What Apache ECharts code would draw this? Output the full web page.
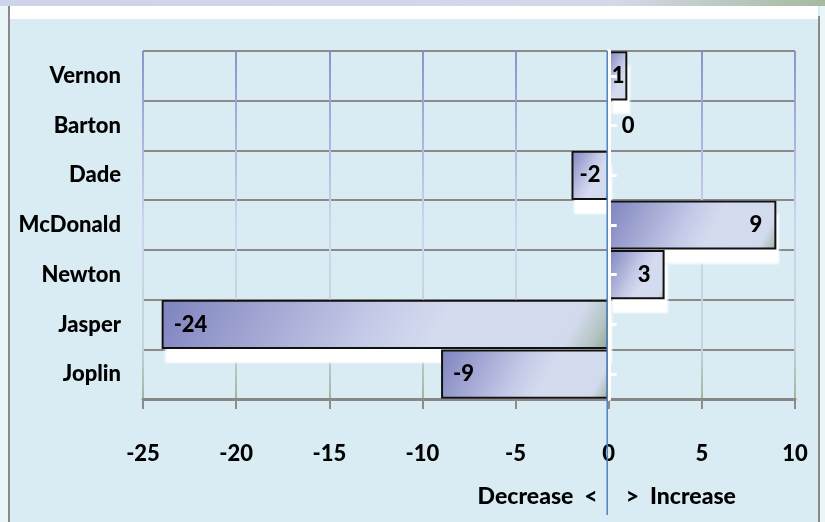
<!DOCTYPE html>
<html>
<head>
<meta charset="utf-8">
<script src="https://cdn.jsdelivr.net/npm/echarts@6/dist/echarts.min.js"></script>
<style>
  html, body { margin: 0; padding: 0; background: #d9ecf3; }
  #chart { width: 825px; height: 522px; }
</style>
</head>
<body>
<div id="chart"></div>
<script>
// County population change, top to bottom
const categories = ['Vernon', 'Barton', 'Dade', 'McDonald', 'Newton', 'Jasper', 'Joplin'];
const changes = [1, 0, -2, 9, 3, -24, -9];
// Value axis range and tick step
const xMin = -25;
const xMax = 10;
const xStep = 5;
const footLeft = 'Decrease  <';
const footRight = '>  Increase';

const FONT = "Lato, Roboto, 'Liberation Sans', sans-serif";
const WEIGHT = 900;
const GRID = { left: 143, right: 30, top: 51, bottom: 123 };
const H = 522, W = 825;
const BAR_GAP = 0.01;

// Label placement depends on the bar length
function labelFor(v) {
  if (v === 0) return { position: 'right', distance: 12 };
  if (Math.abs(v) <= 2) return { position: 'inside' };
  return v > 0 ? { position: 'insideRight', distance: 14 } : { position: 'insideLeft', distance: 12 };
}

const barStops = [
  { offset: 0, color: '#7f83bf' },
  { offset: 0.48, color: '#c6cce8' },
  { offset: 0.62, color: '#d4dbef' },
  { offset: 0.9, color: '#d2dbee' },
  { offset: 0.96, color: '#b3c2c0' },
  { offset: 1, color: '#92a592' }
];

// Slanted sheen: gradient runs at a fixed screen angle across each bar
function barFill(wPx, hPx) {
  const ang = 28 * Math.PI / 180;
  const c = Math.cos(ang), s = Math.sin(ang);
  const w = Math.max(wPx, 1), h = Math.max(hPx, 1);
  const L = w * c + h * s;
  return { type: 'linear', x: 0, y: 0, x2: L * c / w, y2: L * s / h, colorStops: barStops };
}

const gridTop = GRID.top, gridBottom = H - GRID.bottom;
const vGridColor = {
  type: 'linear', x: 0, y: gridTop, x2: 0, y2: gridBottom, global: true,
  colorStops: [
    { offset: 0, color: '#8d91cb' },
    { offset: 0.5, color: '#cfd4ee' },
    { offset: 0.85, color: '#c6d2dc' },
    { offset: 1, color: '#a2b49f' }
  ]
};

const textStyle = { color: '#000', fontFamily: FONT, fontWeight: WEIGHT, fontSize: 22 };
const lastIndex = changes.length - 1;

const chart = echarts.init(document.getElementById('chart'), null, { renderer: 'canvas' });

const option = {
  backgroundColor: '#d9ecf3',
  animation: false,
  grid: { left: GRID.left, right: GRID.right, top: GRID.top, bottom: GRID.bottom, containLabel: false },
  xAxis: {
    type: 'value', min: xMin, max: xMax, interval: xStep,
    axisLine: { show: true, onZero: false, lineStyle: { color: '#878787', width: 3 } },
    axisTick: { show: true, length: 10, lineStyle: { color: '#8c8c8c', width: 2 } },
    axisLabel: Object.assign({ margin: 44 }, textStyle),
    splitLine: { show: true, lineStyle: { color: vGridColor, width: 2 } }
  },
  yAxis: [
    {
      type: 'category', data: categories, inverse: true,
      axisLine: { show: false, onZero: false },
      axisTick: { show: false },
      axisLabel: Object.assign({ margin: 22 }, textStyle),
      splitLine: { show: true, lineStyle: { color: '#8a8a8a', width: 2 } }
    },
    {
      // white axis through zero with ticks at each county
      type: 'category', data: categories, inverse: true, position: 'left', z: 5,
      axisLine: { show: true, onZero: true, lineStyle: { color: '#ffffff', width: 4 } },
      axisTick: { show: true, inside: true, alignWithLabel: true, length: 8, lineStyle: { color: '#ffffff', width: 3 } },
      axisLabel: { show: false },
      splitLine: { show: false }
    }
  ],
  series: [
    {
      // white drop shadow sitting under each bar
      id: 'shadow',
      type: 'bar',
      yAxisIndex: 0,
      barCategoryGap: (BAR_GAP * 100) + '%',
      barGap: '-100%',
      silent: true,
      data: changes.map((v, i) => ({
        value: v,
        itemStyle: i === lastIndex ? { shadowColor: 'rgba(0,0,0,0)' } : {}
      })),
      itemStyle: {
        color: '#ffffff',
        shadowColor: '#ffffff',
        shadowBlur: 2,
        shadowOffsetX: 3,
        shadowOffsetY: 14
      },
      label: { show: false }
    },
    {
      id: 'change',
      type: 'bar',
      yAxisIndex: 0,
      barCategoryGap: (BAR_GAP * 100) + '%',
      barGap: '-100%',
      data: changes.map(v => ({ value: v, label: labelFor(v) })),
      itemStyle: {
        color: '#c6cce8',
        borderColor: '#111111',
        borderWidth: 2
      },
      label: Object.assign({ show: true, formatter: p => String(p.value) }, textStyle)
    }
  ]
};

chart.setOption(option);

// Pixel scale of both axes, used for the sheen and the overlays
const x0 = chart.convertToPixel({ xAxisIndex: 0 }, 0);
const pxPerUnit = (chart.convertToPixel({ xAxisIndex: 0 }, xMax) - chart.convertToPixel({ xAxisIndex: 0 }, xMin)) / (xMax - xMin);
const band = Math.abs(chart.convertToPixel({ yAxisIndex: 0 }, categories[1]) - chart.convertToPixel({ yAxisIndex: 0 }, categories[0]));
const barH = band * (1 - BAR_GAP);

const footFont = WEIGHT + ' 23px ' + FONT;
chart.setOption({
  series: [
    { id: 'shadow' },
    {
      id: 'change',
      data: changes.map(v => ({
        value: v,
        label: labelFor(v),
        itemStyle: { color: barFill(Math.abs(v) * pxPerUnit, barH) }
      }))
    }
  ],
  graphic: [
    { type: 'rect', shape: { x: 0, y: 0, width: 8, height: H }, style: { fill: '#eaf5f7' }, silent: true },
    { type: 'rect', shape: { x: W - 5, y: 0, width: 5, height: H }, style: { fill: '#eaf5f7' }, silent: true },
    { type: 'rect', shape: { x: 8, y: 0, width: 2, height: H }, style: { fill: '#8a8a8a' }, silent: true },
    { type: 'rect', shape: { x: W - 7, y: 16, width: 2, height: H - 16 }, style: { fill: '#8a8a8a' }, silent: true },
    {
      type: 'rect', shape: { x: 0, y: 0, width: W, height: 6 }, silent: true,
      style: { fill: { type: 'linear', x: 0, y: 0, x2: 1, y2: 0, colorStops: [
        { offset: 0, color: '#cdd3ea' }, { offset: 0.75, color: '#d2d9e8' }, { offset: 1, color: '#a7b99e' }
      ] } }
    },
    { type: 'rect', shape: { x: 10, y: 6, width: W - 17, height: 13 }, style: { fill: '#ffffff' }, silent: true },
    {
      type: 'line', z: 100, silent: true,
      shape: { x1: x0 - 1.5, y1: gridTop, x2: x0 - 1.5, y2: 515 },
      style: { stroke: '#4f81bd', lineWidth: 1.5 }
    },
    {
      type: 'text', z: 100, silent: true, x: x0 - 11, y: 497,
      style: { text: footLeft, fill: '#000', font: footFont, align: 'right', verticalAlign: 'middle' }
    },
    {
      type: 'text', z: 100, silent: true, x: x0 + 17, y: 497,
      style: { text: footRight, fill: '#000', font: footFont, align: 'left', verticalAlign: 'middle' }
    }
  ]
});
</script>
</body>
</html>
